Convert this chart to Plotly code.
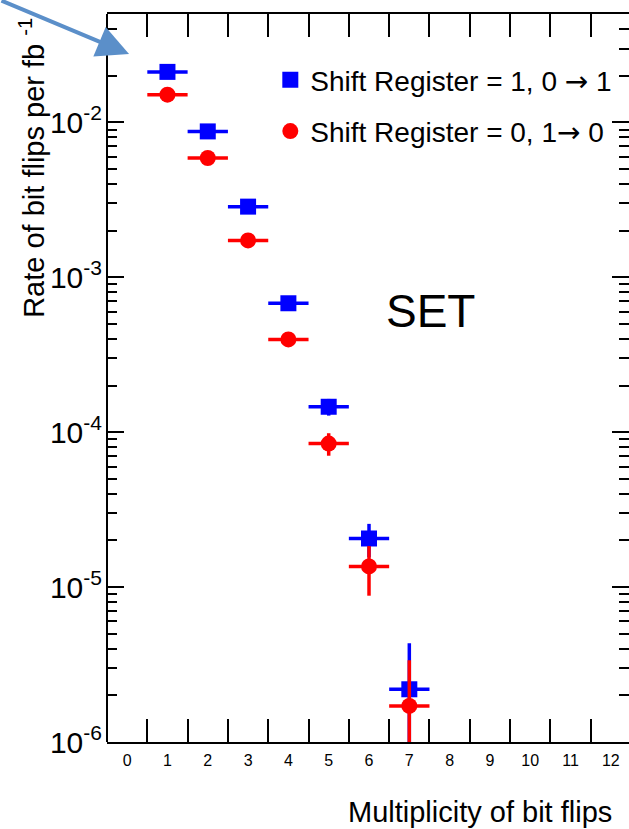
import plotly.graph_objects as go

# ---- data ----
multiplicity = [1, 2, 3, 4, 5, 6, 7]
bin_half_width = [0.5] * 7
rate_sr1 = [0.0212, 0.00875, 0.00286, 0.00068, 1.46e-4, 2.06e-5, 2.19e-6]
err_sr1 = [2e-4, 1.4e-4, 8e-5, 4e-5, 1.8e-5, 5e-6, 2.15e-6]
rate_sr0 = [0.0151, 0.00589, 0.00173, 0.000397, 8.45e-5, 1.36e-5, 1.71e-6]
err_sr0 = [1.8e-4, 1.1e-4, 6e-5, 3e-5, 1.4e-5, 4.8e-6, 1.66e-6]
x_tick_labels = [str(i) for i in range(13)]
y_exponents = [-6, -5, -4, -3, -2]

ARROW = '<span style="font-family:DejaVu Sans">\u2192</span>'
label_sr1 = "Shift Register = 1, 0 " + ARROW + " 1"
label_sr0 = "Shift Register = 0, 1" + ARROW + " 0"

FONT = "Liberation Sans, Arial, sans-serif"
BLUE = "#0000ff"
RED = "#ff0000"

fig = go.Figure()
fig.add_trace(go.Scatter(
    x=multiplicity, y=rate_sr1, mode="markers", name=label_sr1,
    legendgroup="a",
    marker=dict(symbol="square", size=16, color=BLUE),
    error_y=dict(type="data", array=err_sr1, color=BLUE, thickness=3.5, width=0),
    error_x=dict(type="data", array=bin_half_width, color=BLUE, thickness=3.5, width=0),
))
fig.add_trace(go.Scatter(
    x=multiplicity, y=rate_sr0, mode="markers", name=label_sr0,
    legendgroup="b",
    marker=dict(symbol="circle", size=16, color=RED),
    error_y=dict(type="data", array=err_sr0, color=RED, thickness=3.5, width=0),
    error_x=dict(type="data", array=bin_half_width, color=RED, thickness=3.5, width=0),
))

y_major = [10.0 ** e for e in y_exponents]
y_minor = [k * 10.0 ** e for e in y_exponents for k in range(2, 10) if k * 10.0 ** e <= 0.05]
y_text = ["10<sup>%d</sup>" % e for e in y_exponents]

fig.update_layout(
    width=629, height=829,
    margin=dict(l=107, r=0, t=14, b=87),
    paper_bgcolor="white", plot_bgcolor="white",
    font=dict(family=FONT, color="black"),
    showlegend=True,
    legend=dict(
        x=(270 - 107) / 521, y=(742 - 55) / 728, xanchor="left", yanchor="top",
        bgcolor="rgba(0,0,0,0)", font=dict(size=28, family=FONT),
        tracegroupgap=12, traceorder="grouped",
    ),
    xaxis=dict(
        range=[-0.5, 12.45], showgrid=False, zeroline=False,
        showline=True, linecolor="black", linewidth=2, mirror="ticks",
        tickmode="array", tickvals=list(range(13)), ticktext=x_tick_labels,
        ticks="inside", ticklen=0, tickfont=dict(size=16, family=FONT),
        ticklabelstandoff=3,
        minor=dict(tickmode="array", tickvals=[i + 0.5 for i in range(12)],
                   ticks="inside", ticklen=23, tickwidth=2, tickcolor="black",
                   showgrid=False),
    ),
    yaxis=dict(
        type="log", range=[-6, -1.3], showgrid=False, zeroline=False,
        showline=False, mirror="ticks",
        tickmode="array", tickvals=y_major, ticktext=y_text,
        ticks="inside", ticklen=17, tickwidth=2, tickcolor="black",
        tickfont=dict(size=30, family=FONT), ticklabelstandoff=4,
        minor=dict(tickmode="array", tickvals=y_minor,
                   ticks="inside", ticklen=10, tickwidth=2, tickcolor="black",
                   showgrid=False),
    ),
    shapes=[dict(type="line", xref="paper", yref="paper", x0=0, x1=0, y0=0, y1=1,
                 line=dict(color="black", width=2))],
    annotations=[
        dict(text="Rate of bit flips per fb <sup>-1</sup>", textangle=-90,
             xref="paper", yref="paper", x=(32 - 107) / 521, y=(742 - 16) / 728,
             xanchor="center", yanchor="top", showarrow=False,
             font=dict(size=29, family=FONT)),
        dict(text="Multiplicity of bit flips", xref="paper", yref="paper",
             x=(613 - 107) / 521, y=(742 - 812) / 728, xanchor="right", yanchor="middle",
             showarrow=False, font=dict(size=29, family=FONT)),
        dict(text="SET", xref="paper", yref="paper",
             x=(430 - 107) / 521, y=(742 - 311) / 728, xanchor="center", yanchor="middle",
             showarrow=False, font=dict(size=46, family=FONT)),
        dict(text="", xref="paper", yref="paper",
             x=(129 - 107) / 521, y=(742 - 54) / 728,
             showarrow=True, arrowhead=2, arrowsize=1.6, arrowwidth=4,
             arrowcolor="#5b8fc9", ax=-135, ay=-60),
    ],
)

fig.write_html("out.html")
